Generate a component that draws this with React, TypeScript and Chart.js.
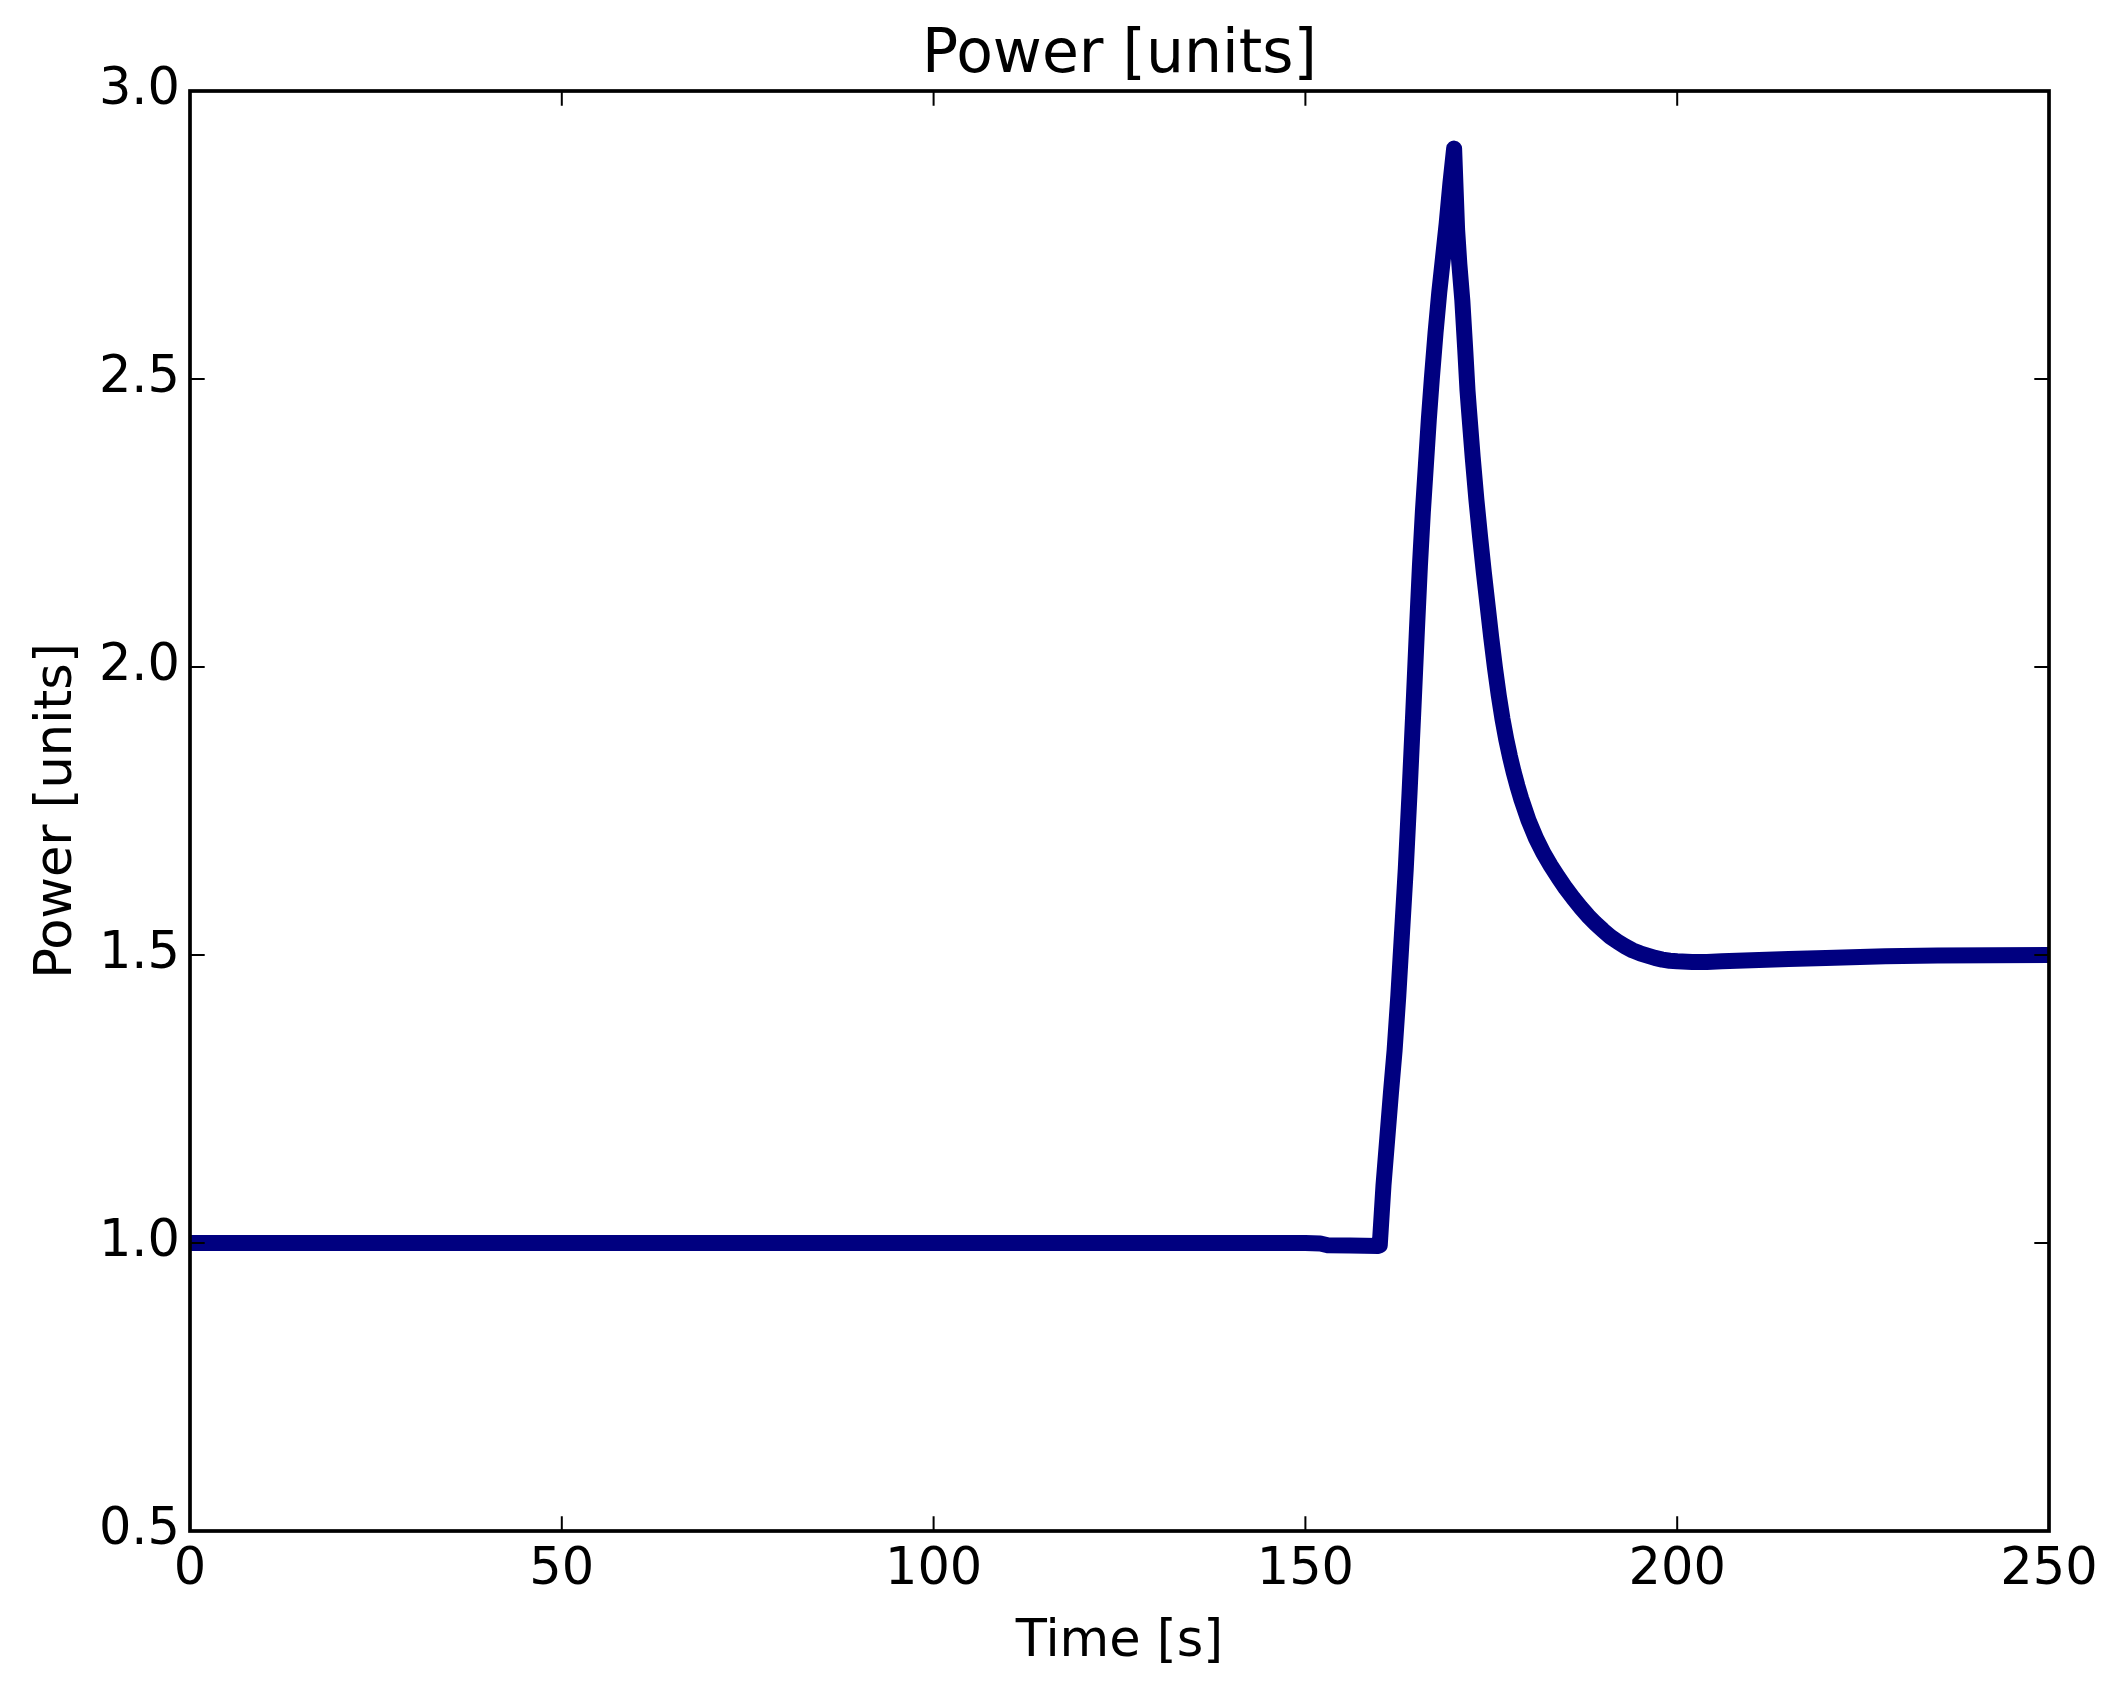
import React, { useEffect, useRef } from "react";
import { Chart, registerables } from "chart.js";

Chart.register(...registerables);

const chartTitle = "Power [units]";
const xAxisLabel = "Time [s]";
const yAxisLabel = "Power [units]";

const xTickValues = [0, 50, 100, 150, 200, 250];
const yTickValues = [0.5, 1.0, 1.5, 2.0, 2.5, 3.0];

const timeSeconds = [
  0, 50, 100, 150, 152, 153, 156, 159.8, 160,
  160.5, 161, 161.5, 162, 162.5, 163, 163.5, 164, 164.5, 165, 165.4, 165.8, 166.2, 166.6,
  167, 167.5, 168, 168.5, 169, 169.5, 170,
  170.4, 170.7, 171.1, 171.5, 171.8, 172, 172.5, 173, 173.5, 174, 174.5, 175, 175.5, 176,
  176.5, 177, 177.5, 178, 178.5, 179, 180, 181, 182, 183, 184, 185, 186, 187, 188, 189,
  190, 191, 192, 193, 194, 195, 196, 197, 198, 199, 200, 202, 204, 206, 210, 215, 220,
  228, 235, 250,
];

const power = [
  1.0, 1.0, 1.0, 1.0, 0.999, 0.996, 0.9955, 0.995, 0.996,
  1.1, 1.18, 1.26, 1.335, 1.43, 1.54, 1.65, 1.78, 1.92, 2.065, 2.175, 2.27, 2.35, 2.43,
  2.5, 2.58, 2.65, 2.71, 2.77, 2.84, 2.9,
  2.76, 2.7, 2.637, 2.55, 2.48, 2.446, 2.364, 2.29, 2.225, 2.164, 2.107, 2.05, 1.998, 1.951,
  1.91, 1.875, 1.845, 1.818, 1.794, 1.772, 1.734, 1.703, 1.677, 1.655, 1.635, 1.616, 1.599, 1.583, 1.568, 1.555,
  1.543, 1.532, 1.523, 1.515, 1.508, 1.503, 1.499, 1.495, 1.492, 1.49, 1.489, 1.488, 1.488, 1.489, 1.491, 1.493, 1.495,
  1.498, 1.499, 1.5,
];

const FONT = "'DejaVu Sans', 'Liberation Sans', sans-serif";

const framePlugin = {
  id: "mplFrame",
  afterDatasetsDraw(chart: any) {
    const { ctx, chartArea, scales } = chart;
    const { left, right, top, bottom } = chartArea;
    const xs = scales.x;
    const ys = scales.y;
    const tickLen = 14.7;
    ctx.save();
    ctx.strokeStyle = "#000000";
    ctx.lineWidth = 2;
    ctx.lineCap = "butt";
    ctx.beginPath();
    xs.ticks.forEach((t: any) => {
      const px = xs.getPixelForValue(t.value);
      ctx.moveTo(px, bottom);
      ctx.lineTo(px, bottom - tickLen);
      ctx.moveTo(px, top);
      ctx.lineTo(px, top + tickLen);
    });
    ys.ticks.forEach((t: any) => {
      const py = ys.getPixelForValue(t.value);
      ctx.moveTo(left, py);
      ctx.lineTo(left + tickLen, py);
      ctx.moveTo(right, py);
      ctx.lineTo(right - tickLen, py);
    });
    ctx.stroke();
    ctx.lineWidth = 3.7;
    ctx.lineJoin = "miter";
    ctx.strokeRect(left, top, right - left, bottom - top);
    ctx.restore();
  },
  afterDraw(chart: any) {
    const { ctx, chartArea } = chart;
    const { left, right, top, bottom } = chartArea;
    const cx = (left + right) / 2;
    const cy = (top + bottom) / 2;
    ctx.save();
    ctx.fillStyle = "#000000";
    ctx.textAlign = "center";
    ctx.textBaseline = "alphabetic";
    ctx.font = `60px ${FONT}`;
    ctx.fillText(chartTitle, cx, 72);
    ctx.font = `51px ${FONT}`;
    ctx.fillText(xAxisLabel, cx, 1656);
    ctx.translate(71, cy);
    ctx.rotate(-Math.PI / 2);
    ctx.fillText(yAxisLabel, 0, 0);
    ctx.restore();
  },
};

export default function App() {
  const canvasRef = useRef<HTMLCanvasElement | null>(null);

  useEffect(() => {
    document.body.style.margin = "0";
    document.body.style.overflow = "hidden";
    const canvas = canvasRef.current;
    if (!canvas) return;
    const chart = new Chart(canvas, {
      type: "line",
      data: {
        datasets: [
          {
            label: "Power",
            data: timeSeconds.map((t, i) => ({ x: t, y: power[i] })),
            borderColor: "#000080",
            backgroundColor: "#000080",
            borderWidth: 16,
            borderJoinStyle: "round",
            borderCapStyle: "butt",
            pointRadius: 0,
            tension: 0,
            fill: false,
            clip: 0,
          } as any,
        ],
      },
      options: {
        animation: false,
        responsive: false,
        devicePixelRatio: 1,
        layout: { padding: { left: 0, right: 72, top: 91, bottom: 0 } },
        plugins: {
          legend: { display: false },
          title: { display: false },
          tooltip: { enabled: false },
        },
        scales: {
          x: {
            type: "linear",
            min: 0,
            max: 250,
            afterFit: (scale: any) => {
              scale.height = 165;
            },
            afterBuildTicks: (scale: any) => {
              scale.ticks = xTickValues.map((v) => ({ value: v }));
            },
            grid: { display: false, drawTicks: false },
            border: { display: false },
            ticks: {
              color: "#000000",
              padding: 9,
              maxRotation: 0,
              font: { family: FONT, size: 51 },
              callback: (v: any) => String(v),
            },
          },
          y: {
            type: "linear",
            min: 0.5,
            max: 3.0,
            afterFit: (scale: any) => {
              scale.width = 190;
            },
            afterBuildTicks: (scale: any) => {
              scale.ticks = yTickValues.map((v) => ({ value: v }));
            },
            grid: { display: false, drawTicks: false },
            border: { display: false },
            ticks: {
              color: "#000000",
              padding: 10,
              font: { family: FONT, size: 51 },
              callback: (v: any) => Number(v).toFixed(1),
            },
          },
        },
      },
      plugins: [framePlugin],
    });
    return () => chart.destroy();
  }, []);

  return (
    <canvas
      ref={canvasRef}
      width={2121}
      height={1696}
      style={{ display: "block", width: "2121px", height: "1696px" }}
    />
  );
}
